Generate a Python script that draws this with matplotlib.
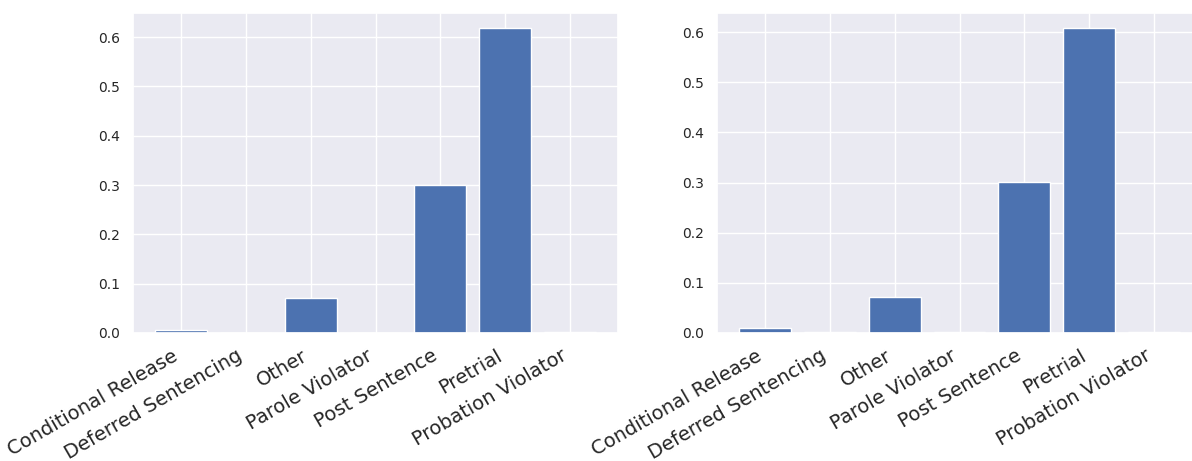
import matplotlib
matplotlib.use("Agg")
import matplotlib.pyplot as plt
import seaborn as sns

sns.set_theme()

categories = ["Conditional Release", "Deferred Sentencing", "Other", "Parole Violator",
              "Post Sentence", "Pretrial", "Probation Violator"]
left_values = [0.006, 0.001, 0.070, 0.001, 0.301, 0.618, 0.002]
right_values = [0.009, 0.002, 0.072, 0.002, 0.301, 0.608, 0.002]

W, H = 1192, 461
fig = plt.figure(figsize=(W / 100, H / 100), dpi=100)
# right panel runs a little past the edge of the picture, as in the original
ax1 = fig.add_axes([133 / W, 128 / H, 485 / W, 320 / H])
ax2 = fig.add_axes([717 / W, 128 / H, 485 / W, 320 / H])

for ax, vals in zip([ax1, ax2], [left_values, right_values]):
    ax.bar(categories, vals)
    ax.tick_params(axis="y", labelsize=10)
    plt.setp(ax.get_xticklabels(), rotation=30, ha="right", fontsize=14)

fig.savefig("out.png", dpi=100)
